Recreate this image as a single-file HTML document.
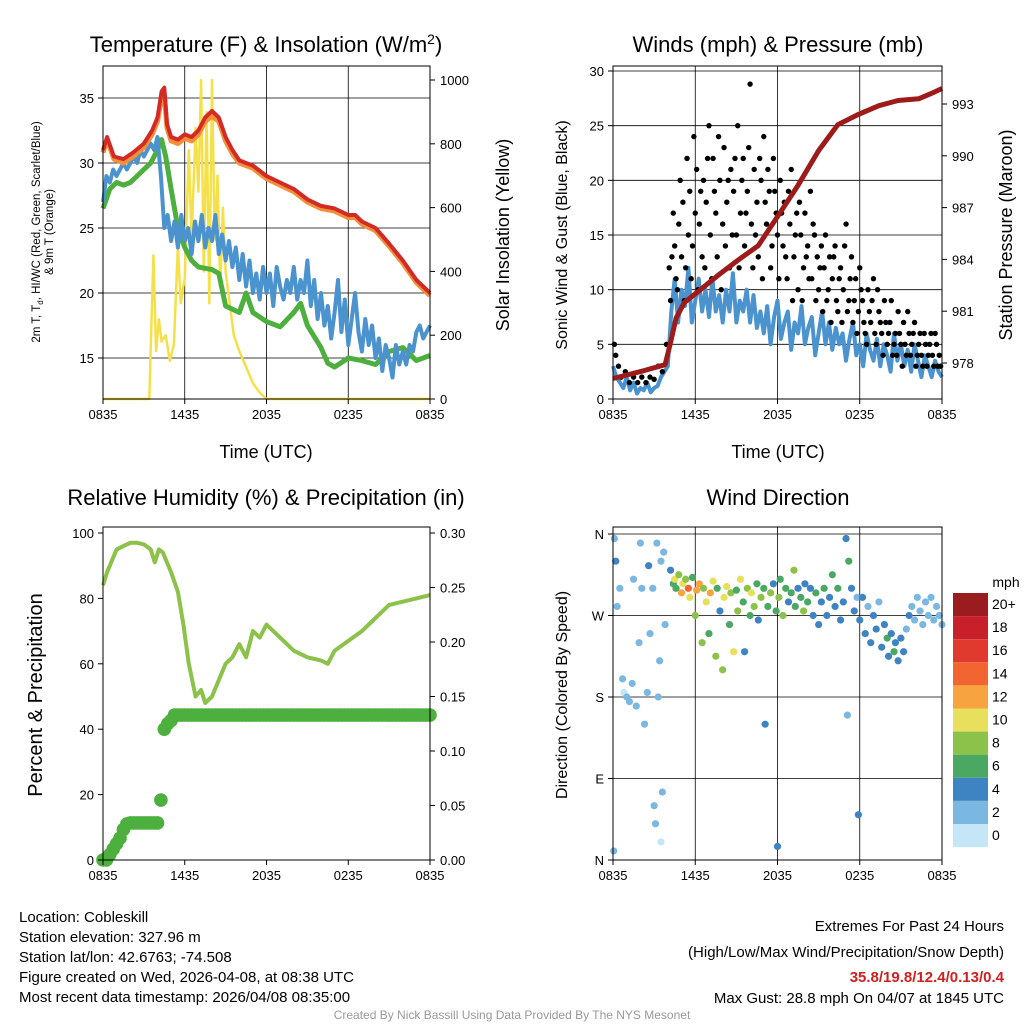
<!DOCTYPE html>
<html><head><meta charset="utf-8"><style>
body{margin:0;background:#fff;}
svg{display:block;font-family:"Liberation Sans",sans-serif;}
</style></head><body>
<svg id="s" width="1024" height="1024" viewBox="0 0 1024 1024"></svg>
<script>
// ---------- DATA ----------
const xTickLabels = ["0835","1435","2035","0235","0835"];
const tempTimes = [0,0.3,0.8,1.5,2.2,3,3.6,4,4.3,4.5,4.7,5,5.5,6,6.5,7,7.5,8,8.5,9,9.5,10,11,12,13,14,15,16,17,18,18.5,19,20,21,22,23,24];
const tempVals  = [31,32,30.5,30.3,30.8,31.5,32.5,33.5,35.5,35.8,33,32,31.8,32.2,32,32.5,33.5,34,33.5,32,31,30.2,29.8,29,28.5,28,27.2,26.7,26.5,26,26,25.5,25,23.8,22.5,21,20];
const temp9Vals = [30.8,31.8,30.3,30,30.5,31.2,32.2,33.2,35,35.3,32.7,31.7,31.5,31.9,31.7,32.2,33.2,33.6,33.2,31.7,30.7,30,29.6,28.8,28.3,27.8,27,26.5,26.3,25.8,25.8,25.3,24.8,23.6,22.3,20.8,19.8];
const dewTimes = [0,0.5,1,1.5,2,3,3.5,4,4.3,4.6,5,5.5,6,6.5,7,8,8.5,9,10,10.5,11,12,13,14,14.5,15,16,16.5,17,18,19,20,21,22,23,24];
const dewVals  = [26.5,28,28.5,28.3,28.5,29.5,30,31,31.8,30.5,28,25,23.5,22.5,22,21.8,21.5,19,18.5,20,18.5,17.8,17.4,18.5,19.2,17.5,15.8,14.6,14.3,15,14.8,14.5,15.5,15.8,14.8,15.2];
const wcVals = [27,29,28.5,29.5,29,29.5,30,29.5,30,30.5,30,31,30.5,31,31.5,31,32,
29,25,26,24,25.5,23.5,26,24,25,23,25.5,24,26,23.5,25,24,26,23,24.5,22.5,24,22,23.5,
21,23,20.5,22.5,20,21.5,19.5,22,20,21.5,19,22,20.5,19.5,21,20,22,19.5,21,20,22.5,19,21,18,20,17.5,19,
16.5,18.5,21,17,19.5,16,18,20,17,15.5,18,16,17.5,15,16.5,14,16,15,13.5,16,14.5,15.5,14.5,16,15.5,17,17.5,16.5,17,17.5];
const solarTimes = [0,3.4,3.7,3.9,4.1,4.3,4.6,4.9,5.2,5.5,5.7,6.0,6.3,6.5,6.8,7.0,7.2,7.4,7.6,7.8,8.0,8.2,8.4,8.6,8.8,9.0,9.3,9.6,10,10.5,11,11.5,12,24];
const solarVals  = [0,0,450,150,250,180,200,120,170,480,300,380,780,500,850,650,1000,400,900,300,1000,500,700,350,600,400,300,200,150,100,50,20,0,0];

const windVals = [3,2,1.5,1,2,0.8,1.5,0.5,1,0.8,1.5,0.6,1,1.2,2,2.5,3,
8,11,7,10,8.5,12,7,9,11,8,10,7.5,11,8,9.5,7,10,8,11.5,7,9,8,10,7,9.5,6.5,8,
6,8.5,5,7.5,9,5.5,7,8,4.5,7,6,8.5,5,6.5,7.5,4,6,8,5,7,4.5,6.5,5,
6,3.5,5.5,7,4,5,3,6,4.5,3.5,5.5,3,5,4,2.5,6,3.5,5,3,4.5,2.5,5,3.5,2,4,3,2,3.5,2.5,2];
const gusts = [[0.1,5],[0.2,4],[0.4,3],[0.6,2],[0.9,2.5],[1.2,1.5],[1.5,2],[1.8,1.5],[2.1,2],[2.4,1.5],[2.7,2],[3.0,1.8],[3.3,3],[3.6,2.5],[3.9,5],
[4.1,12],[4.3,13],[4.5,14],[4.6,11],[4.8,16],[5.0,13],[5.1,18],[5.3,12],[5.5,15],[5.6,19],[5.8,14],[6.0,17],[6.1,21],[6.3,16],[6.5,13],[6.6,20],[6.8,18],[7.0,25],[7.1,15],[7.3,22],[7.5,17],[7.6,13],[7.8,20],[8.0,16],[8.1,23],[8.3,18],[8.5,12],[8.6,21],[8.8,19],[9.0,15],[9.1,25],[9.3,17],[9.5,22],[9.6,14],[9.8,19],[10.0,28.8],[10.1,16],[10.3,21],[10.5,18],[10.6,13],[10.8,20],[11.0,24],[11.2,16],[11.4,19],[11.5,12],[11.7,22],[11.9,17],[12.0,15],[12.2,20],[12.4,14],[12.5,18],[12.7,11],[12.9,16],[13.0,21],[13.2,13],[13.4,17],[13.5,10],[13.7,15],[13.9,12],[14.0,17],[14.2,14],[14.4,19],[14.5,11],[14.7,15],[14.9,13],[15.0,10],[15.2,14],[15.4,12],[15.6,9],[15.8,13],[16.0,11],[16.2,14],[16.4,8],[16.6,12],[16.8,10],[17.0,16],[17.2,9],[17.4,13],[17.5,7],[17.7,11],[17.9,8],[18.0,12],[18.2,9],[18.4,6],[18.6,10],[18.8,7],[19.0,11],[19.2,5],[19.4,8],[19.6,6],[19.8,9],[20.0,5],[20.2,7],[20.4,4],[20.6,6],[20.8,8],[21.0,5],[21.2,7],[21.4,4],[21.6,6],[21.8,5],[22.0,7],[22.2,4],[22.4,6],[22.6,3],[22.8,5],[23.0,4],[23.2,6],[23.4,3],[23.6,5],[23.8,4],[23.9,3],
[4.2,9],[4.4,17],[4.7,10],[4.9,20],[5.2,9],[5.4,22],[5.7,11],[5.9,24],[6.2,10],[6.4,19],[6.7,12],[6.9,22],[7.2,11],[7.4,19],[7.7,24],[7.9,10],[8.2,14],[8.4,20],[8.7,15],[8.9,22],[9.2,12],[9.4,20],[9.7,17],[9.9,23],[10.2,12],[10.4,15],[10.7,22],[10.9,11],[11.1,18],[11.3,21],[11.6,14],[11.8,19],[12.1,11],[12.3,17],[12.6,13],[12.8,19],[13.1,9],[13.3,15],[13.6,18],[13.8,9],[14.1,13],[14.3,11],[14.6,16],[14.8,9],[15.1,12],[15.3,8],[15.5,15],[15.7,10],[15.9,7],[16.1,13],[16.3,9],[16.5,11],[16.7,7],[16.9,14],[17.1,8],[17.3,11],[17.6,9],[17.8,6],[18.1,10],[18.3,7],[18.5,5],[18.7,8],[18.9,9],[19.1,6],[19.3,10],[19.5,7],[19.7,4],[19.9,7],[20.1,6],[20.3,9],[20.5,5],[20.7,4],[20.9,6],[21.1,3],[21.3,5],[21.5,8],[21.7,4],[21.9,6],[22.1,3],[22.3,5],[22.5,4],[22.7,6],[22.9,3],[23.1,5],[23.3,4],[23.5,6],[23.7,3]];
const presTimes = [0,2,3.8,4.2,4.6,5.2,6.3,7.7,9.2,10.6,12.1,13.5,15,16.4,17.9,19.4,20.8,22.3,23.2,24];
const presVals  = [977.1,977.5,977.9,979.2,980.6,981.5,982.2,983.1,984,984.8,986.6,988.3,990.3,991.8,992.4,992.9,993.2,993.3,993.6,993.9];

const rhTimes = [0,0.3,1,1.5,2,2.5,3,3.5,3.8,4.1,4.4,5,5.5,5.9,6.3,6.8,7.2,7.5,8,8.5,9,9.5,10,10.5,11,11.5,12,13,14,15,16,16.5,17,18,19,20,21,22,23,24];
const rhVals  = [84,88,95,96,97,97,96.5,95,91,95,94,88,82,72,60,50,52,48,50,55,60,62,66,62,70,68,72,68,64,62,61,60,64,67,70,74,78,79,80,81];
const precipVals = [0,0,0.005,0.01,0.015,0.02,0.028,0.033,0.034,0.034,0.034,0.034,0.034,0.034,0.034,0.034,0.034,0.055,0.12,0.125,0.128,0.133,0.133,0.133,0.133,0.133,0.133,0.133,0.133,0.133,0.133,0.133,0.133,0.133,0.133,0.133,0.133,0.133,0.133,0.133,0.133,0.133,0.133,0.133,0.133,0.133,0.133,0.133,0.133,0.133,0.133,0.133,0.133,0.133,0.133,0.133,0.133,0.133,0.133,0.133,0.133,0.133,0.133,0.133,0.133,0.133,0.133,0.133,0.133,0.133,0.133,0.133,0.133,0.133,0.133,0.133,0.133,0.133,0.133,0.133,0.133,0.133,0.133,0.133,0.133,0.133,0.133,0.133,0.133,0.133,0.133,0.133,0.133,0.133,0.133,0.133,0.133];

const dirPts = [[0.1,355,1],[0.2,330,3],[0.3,280,2],[0.5,300,1],[0.7,200,1],[0.8,185,0],[1.0,180,1],[1.2,175,1],[1.4,195,2],[1.5,310,1],[1.7,170,1],[1.9,240,1],[2.1,300,2],[2.3,150,1],[2.5,185,1],[2.7,250,1],[2.9,300,1],[3.0,60,1],[3.1,40,1],[3.2,350,1],[3.3,180,2],[3.4,220,1],[3.5,330,1],[3.5,20,0],[3.6,75,1],[3.7,340,1],[3.8,260,1],[0.05,10,1],[2.6,325,3],[2.0,350,1],
[4.2,320,4],[4.4,305,5],[4.5,310,9],[4.6,300,6],[4.8,315,8],[5.0,295,12],[5.1,305,10],[5.3,310,7],[5.5,300,13],[5.6,290,9],[5.8,312,6],[6.0,270,7],[6.1,298,11],[6.3,305,12],[6.5,240,7],[6.6,300,8],[6.8,285,10],[7.0,250,5],[7.1,295,11],[7.3,308,9],[7.5,225,8],[7.6,300,6],[7.8,275,4],[8.0,210,7],[8.1,290,9],[8.3,302,10],[8.5,260,6],[8.6,295,8],[8.8,230,9],[9.0,298,5],[9.1,275,7],[9.3,310,10],[9.5,285,6],[9.6,230,4],[9.8,300,8],[10.0,270,6],[10.1,295,9],[10.3,280,7],[10.5,305,5],[10.6,265,4],[10.8,290,8],[11.0,300,6],[11.1,150,3],[11.3,280,5],
[11.5,295,7],[11.7,305,4],[11.9,275,6],[12.1,290,8],[12.2,310,5],[12.4,270,7],[12.6,300,6],[12.8,285,4],[13.0,295,5],[13.2,320,7],[13.3,280,6],[13.5,300,3],[13.7,290,5],[13.9,275,7],[14.0,305,4],[14.2,285,6],[14.4,300,4],[14.6,270,3],[14.8,295,5],[15.0,260,4],[15.2,285,3],[15.4,300,5],[15.6,270,4],[15.8,290,3],[16.0,315,5],[16.2,280,4],[16.4,300,6],[16.6,265,3],[16.8,285,4],[17.0,355,3],[17.1,160,1],[17.2,330,5],[17.4,300,4],[17.6,275,3],[17.8,290,2],[17.9,50,3],[12.0,15,3],
[18.0,265,4],[18.2,290,3],[18.4,250,4],[18.6,280,2],[18.8,240,4],[19.0,270,3],[19.2,255,4],[19.4,285,2],[19.6,235,4],[19.8,260,3],[20.0,245,5],[20.1,225,4],[20.3,250,4],[20.5,230,5],[20.6,240,3],[20.8,220,4],[21.0,245,3],[21.2,230,4],[21.4,255,2],[21.6,270,3],[21.8,280,1],[22.0,265,2],[22.2,290,1],[22.4,275,2],[22.6,260,1],[22.8,285,2],[23.0,270,1],[23.2,290,2],[23.4,265,1],[23.6,280,2],[23.8,270,1],[24,260,2]];
const cbLabels = ["20+","18","16","14","12","10","8","6","4","2","0"];
const cbColors = ["#9b1c1f","#c8202a","#e03a2f","#f26430","#f7a340","#e8df5c","#8cc14a","#4aa862","#3f84c2","#7ab8e2","#c4e6f7"];

// ---------- HELPERS ----------
const S = document.getElementById('s');
const NS = "http://www.w3.org/2000/svg";
function el(tag, attrs, parent){const e=document.createElementNS(NS,tag);for(const k in attrs)e.setAttribute(k,attrs[k]);(parent||S).appendChild(e);return e;}
function txt(x,y,s,size,anchor,parent,extra){const t=el('text',Object.assign({x:x,y:y,'font-size':size,'text-anchor':anchor||'middle',fill:'#000'},extra||{}),parent);t.textContent=s;return t;}
function lin(d0,d1,r0,r1){return v=>r0+(v-d0)/(d1-d0)*(r1-r0);}
function pathFrom(xs,ys){return xs.map((x,i)=>(i?'L':'M')+x.toFixed(1)+','+ys[i].toFixed(1)).join('');}

function frame(g,x0,x1,y0,y1,xs,leftTicks,ly,grid){
  if(grid){
    leftTicks.forEach(v=>el('line',{x1:x0,x2:x1,y1:ly(v),y2:ly(v),stroke:'#000','stroke-width':0.8},g));
    [0,6,12,18,24].forEach(t=>el('line',{x1:xs(t),x2:xs(t),y1:y0,y2:y1,stroke:'#000','stroke-width':0.8},g));
  }
}
function axes(g,x0,x1,y0,y1,xs,leftTicks,leftLab,ly,rightTicks,rightLab,ry){
  el('rect',{x:x0,y:y0,width:x1-x0,height:y1-y0,fill:'none',stroke:'#000','stroke-width':1},g);
  [0,6,12,18,24].forEach((t,i)=>{el('line',{x1:xs(t),x2:xs(t),y1:y1,y2:y1+5,stroke:'#000'},g);txt(xs(t),y1+20,xTickLabels[i],13,'middle',g);});
  leftTicks.forEach((v,i)=>{el('line',{x1:x0-5,x2:x0,y1:ly(v),y2:ly(v),stroke:'#000'},g);txt(x0-9,ly(v)+5,leftLab[i],13,'end',g);});
  if(rightTicks) rightTicks.forEach((v,i)=>{el('line',{x1:x1,x2:x1+5,y1:ry(v),y2:ry(v),stroke:'#000'},g);txt(x1+10,ry(v)+5,rightLab[i],13,'start',g);});
}

// ---------- PANEL 1 ----------
(function(){
  const g=el('g',{});
  
  
  const x0=103,x1=430,y0=66,y1=399;
  const xs=lin(0,24,x0,x1), ly=lin(15,35,358,98), ry=lin(0,1000,399,80);
  const lt=[15,20,25,30,35], rt=[0,200,400,600,800,1000];
  frame(g,x0,x1,y0,y1,xs,lt,ly,true);
  const p=(d,c,w,n)=>{const e=el('path',{d:d,fill:'none',stroke:c,'stroke-width':w,'stroke-linejoin':'round'},g);};
  p(pathFrom(solarTimes.map(xs),solarVals.map(ry)),'#f5e04a',2.5,'solar-line');
  p(pathFrom(dewTimes.map(xs),dewVals.map(ly)),'#4caf3e',5,'dewpoint-line');
  p(pathFrom(wcVals.map((v,i)=>xs(i*0.25)),wcVals.map(ly)),'#4a93cf',4,'windchill-line');
  p(pathFrom(tempTimes.map(xs),temp9Vals.map(ly)),'#f2903a',5,'temp-9m-line');
  p(pathFrom(tempTimes.map(xs),tempVals.map(ly)),'#d42a26',4,'temp-2m-line');
  axes(g,x0,x1,y0,y1,xs,lt,lt.map(String),ly,rt,rt.map(String),ry);
  const t=txt(266,52,'',22,'middle',g);t.innerHTML='Temperature (F) &amp; Insolation (W/m<tspan dy="-8" font-size="14">2</tspan><tspan dy="8">)</tspan>';
  
  txt(266,458,'Time (UTC)',18,'middle',g);
  const yl=el('text',{x:0,y:0,'font-size':11.5,'text-anchor':'middle',transform:'translate(40,232) rotate(-90)'},g);
  yl.innerHTML='<tspan x="0" dy="0">2m T, T<tspan font-size="8" dy="3">d</tspan><tspan dy="-3">, HI/WC (Red, Green, Scarlet/Blue)</tspan></tspan><tspan x="0" dy="13">&amp; 9m T (Orange)</tspan>';
  
  txt(0,0,'Solar Insolation (Yellow)',18,'middle',g,{transform:'translate(509,235) rotate(-90)'});
})();

// ---------- PANEL 2 ----------
(function(){
  const g=el('g',{});
  
  
  const x0=613,x1=942,y0=66,y1=399;
  const xs=lin(0,24,x0,x1), ly=lin(0,30,399,71), ry=lin(978,993,363,104);
  const lt=[0,5,10,15,20,25,30], rt=[978,981,984,987,990,993];
  frame(g,x0,x1,y0,y1,xs,lt,ly,true);
  const w=el('path',{d:pathFrom(windVals.map((v,i)=>xs(i*0.25)),windVals.map(ly)),fill:'none',stroke:'#4a93cf','stroke-width':4,'stroke-linejoin':'round'},g);
  
  
  gusts.forEach(d=>{const c=el('circle',{cx:xs(d[0]),cy:ly(d[1]),r:2.7,fill:'#000'},g);});
  const pr=el('path',{d:pathFrom(presTimes.map(xs),presVals.map(ry)),fill:'none',stroke:'#9e1b1b','stroke-width':5,'stroke-linejoin':'round'},g);
  
  
  axes(g,x0,x1,y0,y1,xs,lt,lt.map(String),ly,rt,rt.map(String),ry);
  txt(778,52,'Winds (mph) & Pressure (mb)',22,'middle',g);
  txt(778,458,'Time (UTC)',18,'middle',g);
  txt(0,0,'Sonic Wind & Gust (Blue, Black)',16,'middle',g,{transform:'translate(567,235) rotate(-90)'});
  txt(0,0,'Station Pressure (Maroon)',18,'middle',g,{transform:'translate(1012,235) rotate(-90)'});
})();

// ---------- PANEL 3 ----------
(function(){
  const g=el('g',{});
  
  
  const x0=103,x1=430,y0=527,y1=860;
  const xs=lin(0,24,x0,x1), ly=lin(0,100,860,533), ry=lin(0,0.3,860,533);
  const lt=[0,20,40,60,80,100], rt=[0,0.05,0.1,0.15,0.2,0.25,0.3];
  const rh=el('path',{d:pathFrom(rhTimes.map(xs),rhVals.map(ly)),fill:'none',stroke:'#8cc14a','stroke-width':4,'stroke-linejoin':'round'},g);
  
  
  precipVals.forEach((v,i)=>{const c=el('circle',{cx:xs(i*0.25),cy:ry(v),r:6.8,fill:'#4caf3e'},g);});
  axes(g,x0,x1,y0,y1,xs,lt,lt.map(String),ly,rt,rt.map(v=>v.toFixed(2)),ry);
  txt(266,505,'Relative Humidity (%) & Precipitation (in)',22,'middle',g);
  txt(0,0,'Percent & Precipitation',20,'middle',g,{transform:'translate(42,695) rotate(-90)'});
})();

// ---------- PANEL 4 ----------
(function(){
  const g=el('g',{});
  
  
  const x0=613,x1=942,y0=527,y1=860;
  const xs=lin(0,24,x0,x1), ly=lin(0,360,860,534);
  const lt=[0,90,180,270,360], ll=['N','E','S','W','N'];
  frame(g,x0,x1,y0,y1,xs,lt,ly,true);
  const col=s=>cbColors[10-Math.min(10,Math.round(s/2))];
  dirPts.forEach(d=>{const c=el('circle',{cx:xs(d[0]),cy:ly(d[1]),r:3.6,fill:col(d[2])},g);});
  axes(g,x0,x1,y0,y1,xs,lt,ll,ly,null,null,null);
  txt(778,505,'Wind Direction',22,'middle',g);
  txt(0,0,'Direction (Colored By Speed)',16,'middle',g,{transform:'translate(567,695) rotate(-90)'});
  const cb=el('g',{},g);
  
  
  txt(1006,587,'mph',14,'middle',cb);
  cbColors.forEach((c,i)=>{el('rect',{x:953,y:593+i*23.1,width:35,height:23.1,fill:c},cb);txt(992,609+i*23.1,cbLabels[i],14,'start',cb);});
})();

// ---------- FOOTER ----------
(function(){
  const g=el('g',{});
  
  
  ['Location: Cobleskill','Station elevation: 327.96 m','Station lat/lon: 42.6763; -74.508','Figure created on Wed, 2026-04-08, at 08:38 UTC','Most recent data timestamp: 2026/04/08 08:35:00'].forEach((s,i)=>txt(19,922+i*20,s,15,'start',g));
  txt(1004,931,'Extremes For Past 24 Hours',15,'end',g);
  txt(1004,957,'(High/Low/Max Wind/Precipitation/Snow Depth)',15,'end',g);
  txt(1004,982,'35.8/19.8/12.4/0.13/0.4',15,'end',g,{fill:'#d11f1f','font-weight':'bold'});
  txt(1004,1003,'Max Gust: 28.8 mph On 04/07 at 1845 UTC',15,'end',g);
  txt(512,1019,'Created By Nick Bassill Using Data Provided By The NYS Mesonet',12,'middle',g,{fill:'#999'});
})();
</script>
</body></html>
